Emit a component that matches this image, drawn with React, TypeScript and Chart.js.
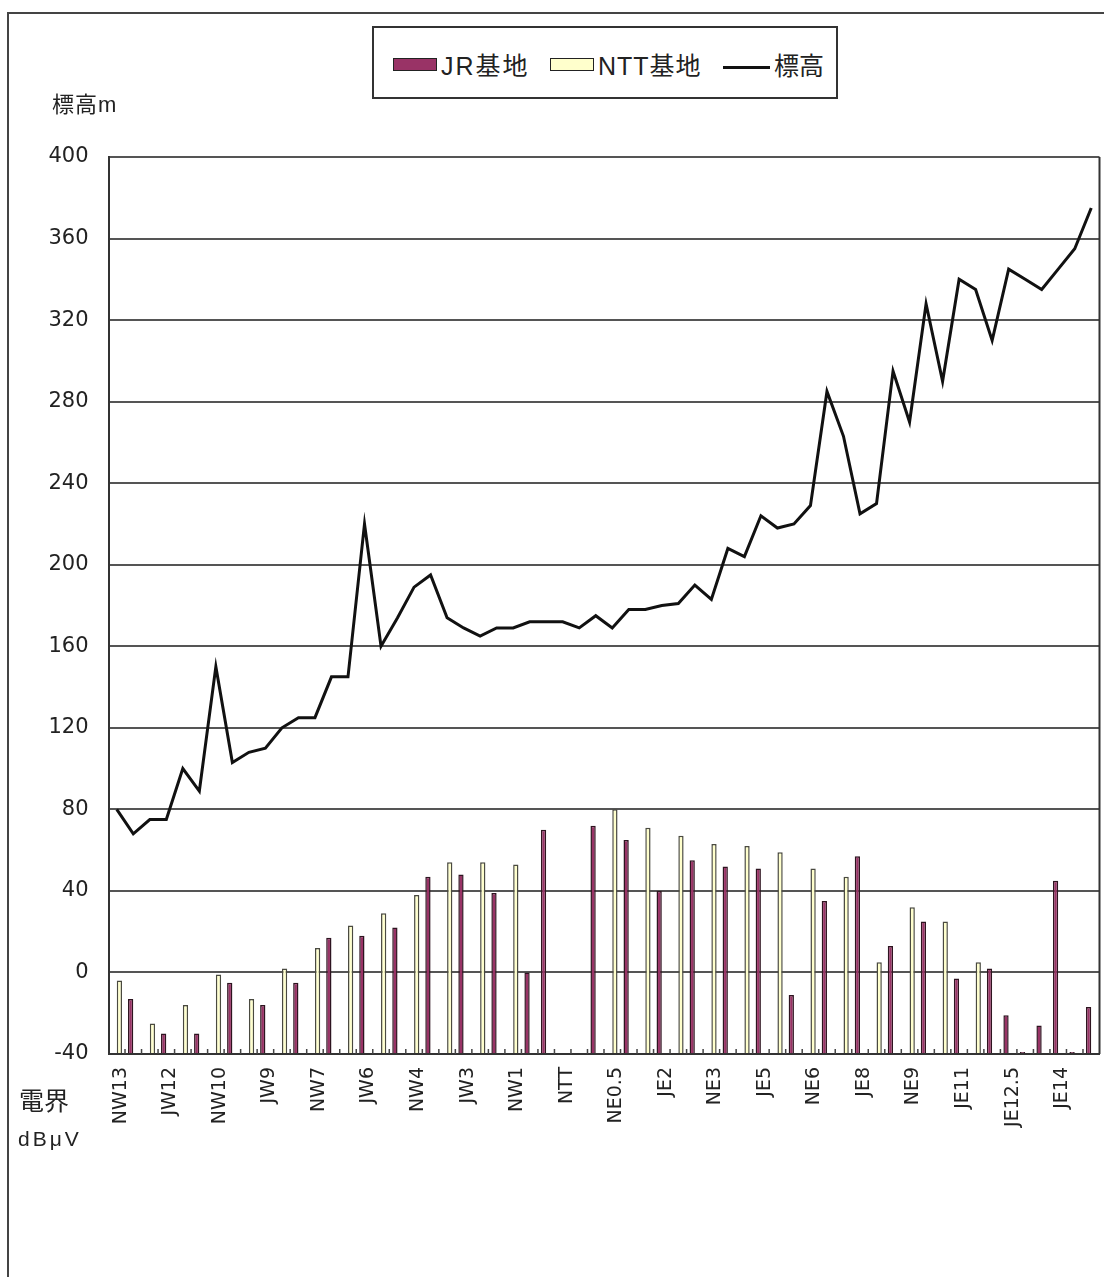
import React, { useEffect, useRef } from "react";
import { Chart, registerables } from "chart.js";

Chart.register(...registerables);

// Category axis: one entry per survey point, only every third point is labelled
const categories = [
  "NW13", "", "", "JW12", "", "", "NW10", "", "", "JW9", "", "",
  "NW7", "", "", "JW6", "", "", "NW4", "", "", "JW3", "", "",
  "NW1", "", "", "NTT", "", "", "NE0.5", "", "", "JE2", "", "",
  "NE3", "", "", "JE5", "", "", "NE6", "", "", "JE8", "", "",
  "NE9", "", "", "JE11", "", "", "JE12.5", "", "", "JE14", "", "",
];

// 標高 (m)
const elevation = [
  80, 68, 75, 75, 100, 89, 150, 103, 108, 110,
  120, 125, 125, 145, 145, 220, 160, 174, 189, 195,
  174, 169, 165, 169, 169, 172, 172, 172, 169, 175,
  169, 178, 178, 180, 181, 190, 183, 208, 204, 224,
  218, 220, 229, 285, 263, 225, 230, 295, 270, 328,
  290, 340, 335, 310, 345, 340, 335, 345, 355, 375,
];

// JR基地 field strength (dBμV)
const jrField = [
  null, -13, null, -30, null, -30, null, -5, null, -16,
  null, -5, null, 17, null, 18, null, 22, null, 47,
  null, 48, null, 39, null, 0, 70, null, null, 72,
  null, 65, null, 40, null, 55, null, 52, null, 51,
  null, -11, null, 35, null, 57, null, 13, null, 25,
  null, -3, null, 2, -21, -39, -26, 45, -39, -17,
];

// NTT基地 field strength (dBμV)
const nttField = [
  -4, null, -25, null, -16, null, -1, null, -13, null,
  2, null, 12, null, 23, null, 29, null, 38, null,
  54, null, 54, null, 53, null, null, null, null, null,
  80, null, 71, null, 67, null, 63, null, 62, null,
  59, null, 51, null, 47, null, 5, null, 32, null,
  25, null, 5, null, null, null, null, null, null, null,
];

const yMin = -40;
const yMax = 400;
const yStep = 40;

const legendItems = ["JR基地", "NTT基地", "標高"];
const yAxisTitle = "標高m";
const fieldTitle = ["電界", "dBμV"];

const W = 1104;
const H = 1277;

const frameAndTicks = {
  id: "frameAndTicks",
  afterDatasetsDraw(chart: any) {
    const { ctx, chartArea, scales } = chart;
    const xs = scales.x;
    const n = categories.length;
    const step = xs.width / n;
    ctx.save();
    ctx.strokeStyle = "#444";
    ctx.lineWidth = 1.5;
    for (let i = 1; i < n; i++) {
      const x = xs.left + i * step;
      ctx.beginPath();
      ctx.moveTo(x, chartArea.bottom);
      ctx.lineTo(x, chartArea.bottom - 5);
      ctx.stroke();
    }
    ctx.strokeStyle = "#333";
    ctx.lineWidth = 2;
    ctx.beginPath();
    ctx.moveTo(chartArea.right, chartArea.top);
    ctx.lineTo(chartArea.right, chartArea.bottom);
    ctx.stroke();
    ctx.restore();
  },
};

function ChartCanvas() {
  const ref = useRef<HTMLCanvasElement | null>(null);
  useEffect(() => {
    if (!ref.current) return;
    const chart = new Chart(ref.current, {
      type: "bar",
      data: {
        labels: categories,
        datasets: [
          {
            type: "line",
            label: "標高",
            data: elevation,
            borderColor: "#111",
            borderWidth: 3,
            pointRadius: 0,
            tension: 0,
            fill: false,
            order: 0,
          } as any,
          {
            type: "bar",
            label: "JR基地",
            data: jrField,
            base: -40,
            backgroundColor: "#993366",
            borderColor: "#2e1420",
            borderWidth: 1.5,
            barPercentage: 1,
            categoryPercentage: 0.64,
            order: 1,
          } as any,
          {
            type: "bar",
            label: "NTT基地",
            data: nttField,
            base: -40,
            backgroundColor: "#FFFFCC",
            borderColor: "#4a4a40",
            borderWidth: 1.5,
            barPercentage: 1,
            categoryPercentage: 0.64,
            order: 1,
          } as any,
        ],
      },
      options: {
        responsive: false,
        animation: false,
        layout: { padding: { top: 157, right: 4.5, left: 0, bottom: 0 } },
        plugins: {
          legend: { display: false },
          tooltip: { enabled: false },
        },
        scales: {
          x: {
            grid: { display: false, drawTicks: false },
            border: { display: true, color: "#333", width: 2 },
            ticks: {
              autoSkip: false,
              maxRotation: 90,
              minRotation: 90,
              padding: 13,
              labelOffset: 4,
              color: "#222",
              font: { family: "'DejaVu Sans', sans-serif", size: 19 },
              callback: (_v: any, i: number) => categories[i],
            },
            afterFit: (s: any) => {
              s.height = 223;
              s.paddingLeft = 0;
              s.paddingRight = 0;
            },
          },
          y: {
            min: yMin,
            max: yMax,
            grid: { color: "#555", lineWidth: 2, drawTicks: false },
            border: { display: true, color: "#333", width: 2 },
            ticks: {
              stepSize: yStep,
              padding: 20,
              color: "#222",
              font: { family: "'DejaVu Sans', sans-serif", size: 21 },
            },
            afterFit: (s: any) => {
              s.width = 108.5;
              s.paddingTop = 0;
              s.paddingBottom = 0;
            },
          },
        },
      },
      plugins: [frameAndTicks],
    });
    return () => chart.destroy();
  }, []);
  return (
    <canvas
      ref={ref}
      width={W}
      height={H}
      style={{ position: "absolute", left: 0, top: 0, width: W, height: H }}
    />
  );
}

const textFont = "'Liberation Sans', 'Noto Sans CJK JP', sans-serif";

function Label(props: { x: number; y: number; size: number; text: string; spacing?: number }) {
  return (
    <div
      style={{
        position: "absolute",
        left: props.x,
        top: props.y - props.size / 2,
        fontSize: props.size,
        lineHeight: `${props.size}px`,
        fontFamily: textFont,
        letterSpacing: props.spacing || 0,
        color: "#222",
        whiteSpace: "nowrap",
      }}
    >
      {props.text}
    </div>
  );
}

export default function App() {
  return (
    <div
      style={{
        position: "absolute",
        left: 0,
        top: 0,
        width: W,
        height: H,
        overflow: "hidden",
        background: "#fff",
      }}
    >
      <div
        style={{
          position: "absolute",
          left: 7,
          top: 12,
          width: W + 40,
          height: H + 40,
          border: "2px solid #444",
          boxSizing: "border-box",
        }}
      />
      <ChartCanvas />
      {/* legend */}
      <div
        style={{
          position: "absolute",
          left: 372,
          top: 26,
          width: 466,
          height: 73,
          border: "2px solid #333",
          boxSizing: "border-box",
          background: "#fff",
        }}
      />
      <div
        style={{
          position: "absolute",
          left: 393,
          top: 58,
          width: 44,
          height: 13,
          background: "#993366",
          border: "1.5px solid #222",
          boxSizing: "border-box",
        }}
      />
      <Label x={441} y={66} size={25} spacing={2} text={legendItems[0]} />
      <div
        style={{
          position: "absolute",
          left: 550,
          top: 58,
          width: 44,
          height: 13,
          background: "#FFFFCC",
          border: "1.5px solid #222",
          boxSizing: "border-box",
        }}
      />
      <Label x={598} y={66} size={25} spacing={1} text={legendItems[1]} />
      <div
        style={{
          position: "absolute",
          left: 723,
          top: 66,
          width: 47,
          height: 3,
          background: "#111",
        }}
      />
      <Label x={774} y={66} size={25} text={legendItems[2]} />
      <Label x={52} y={105} size={22} spacing={1} text={yAxisTitle} />
      <Label x={19} y={1101} size={25} text={fieldTitle[0]} />
      <Label x={18} y={1138} size={21} spacing={3} text={fieldTitle[1]} />
    </div>
  );
}
